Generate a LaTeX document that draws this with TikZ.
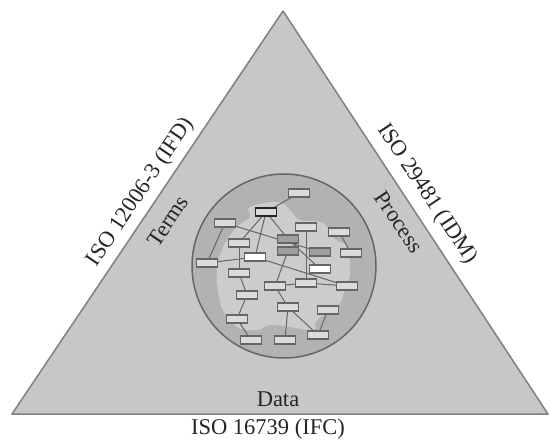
\documentclass[tikz,border=0pt]{standalone}
\usepackage{fontspec}
\setmainfont{Liberation Serif}
\usetikzlibrary{positioning,backgrounds}
\definecolor{trigray}{gray}{0.78}
\definecolor{ringgray}{gray}{0.70}
\definecolor{blobgray}{gray}{0.80}
\definecolor{boxgray}{gray}{0.86}
\pgfdeclarelayer{links}
\pgfsetlayers{background,links,main}
\tikzset{
  tri/.style   = {draw=black!50, fill=trigray, line width=1.5pt, line join=round},
  ring/.style  = {draw=black!60, fill=ringgray, line width=1.5pt},
  blob/.style  = {fill=blobgray},
  bx/.style    = {draw=black!60, fill=boxgray, line width=1.2pt, minimum width=21pt,
                  minimum height=8pt, inner sep=0pt},
  hbx/.style   = {bx, draw=black!85, line width=1.8pt},
  dbx/.style   = {bx, fill=black!38},
  wbx/.style   = {bx, fill=white},
  link/.style  = {draw=black!60, line width=1pt},
  lbl/.style   = {font=\fontsize{22.5}{26}\selectfont, text=black!85, inner sep=0pt},
}

\begin{document}
\begin{tikzpicture}[x=1pt,y=-1pt]
  \useasboundingbox (0,0) rectangle (550,445);
  % triangle, circle and inner blob
  \begin{pgfonlayer}{background}
    \draw[tri] (283,11) -- (548,414) -- (12,414) -- cycle;
    \draw[ring] (284,266) circle (92);
    \fill[blob] plot[smooth cycle,tension=0.7] coordinates {
      (250,207) (277,202) (290,210) (300,220) (323,223) (333,238) (347,247)
      (350,273) (345,290) (337,307) (317,320) (313,330) (290,327) (270,325)
      (257,330) (237,327) (223,310) (218,290) (217,270) (223,247) (237,227)
      (250,217)};
  \end{pgfonlayer}
  % network boxes
  \node[bx]  (b1)  at (299,193) {};
  \node[hbx] (b2)  at (266,212) {};
  \node[bx]  (b3)  at (225,223) {};
  \node[bx]  (b4)  at (306,227) {};
  \node[bx]  (b5)  at (339,232) {};
  \node[bx]  (b6)  at (239,243) {};
  \node[dbx] (b7)  at (288,239) {};
  \node[dbx] (b8)  at (288,251) {};
  \node[wbx] (b9)  at (255,257) {};
  \node[dbx] (b10) at (320,252) {};
  \node[bx]  (b11) at (351,253) {};
  \node[bx]  (b12) at (207,263) {};
  \node[wbx] (b13) at (320,269) {};
  \node[bx]  (b14) at (239,273) {};
  \node[bx]  (b15) at (275,286) {};
  \node[bx]  (b16) at (306,283) {};
  \node[bx]  (b17) at (347,286) {};
  \node[bx]  (b18) at (247,295) {};
  \node[bx]  (b19) at (288,307) {};
  \node[bx]  (b20) at (328,310) {};
  \node[bx]  (b21) at (237,319) {};
  \node[bx]  (b22) at (251,340) {};
  \node[bx]  (b23) at (285,340) {};
  \node[bx]  (b24) at (318,335) {};
  % links
  \begin{pgfonlayer}{links}
    \draw[link] (b1) -- (b2);
    \draw[link] (b2) -- (b6);
    \draw[link] (b2) -- (b9);
    \draw[link] (b2) -- (b7);
    \draw[link] (b3) -- (b10);
    \draw[link] (b3) -- (b12);
    \draw[link] (b4) -- (b16);
    \draw[link] (b5) -- (b11);
    \draw[link] (b6) -- (b14);
    \draw[link] (b12) -- (b9);
    \draw[link] (b9) -- (b17);
    \draw[link] (b7) -- (b13);
    \draw[link] (b14) -- (b18);
    \draw[link] (b18) -- (b21);
    \draw[link] (b21) -- (b22);
    \draw[link] (b8) -- (b15);
    \draw[link] (b15) -- (b16);
    \draw[link] (b16) -- (b17);
    \draw[link] (b15) -- (b19);
    \draw[link] (b19) -- (b23);
    \draw[link] (b19) -- (b24);
    \draw[link] (b20) -- (b24);
  \end{pgfonlayer}
  % labels
  \node[lbl,rotate=56]    (ifd)   at (141,192) {ISO 12006-3 (IFD)};
  \node[lbl,rotate=56]    (terms) at (168,221) {Terms};
  \node[lbl,rotate=-56.5] (idm)   at (427,194) {ISO 29481 (IDM)};
  \node[lbl,rotate=-56.5] (proc)  at (399,222) {Process};
  \node[lbl]              (data)  at (278,399) {Data};
  \node[lbl]              (ifc)   at (268,429) {ISO 16739 (IFC)};
\end{tikzpicture}
\end{document}
